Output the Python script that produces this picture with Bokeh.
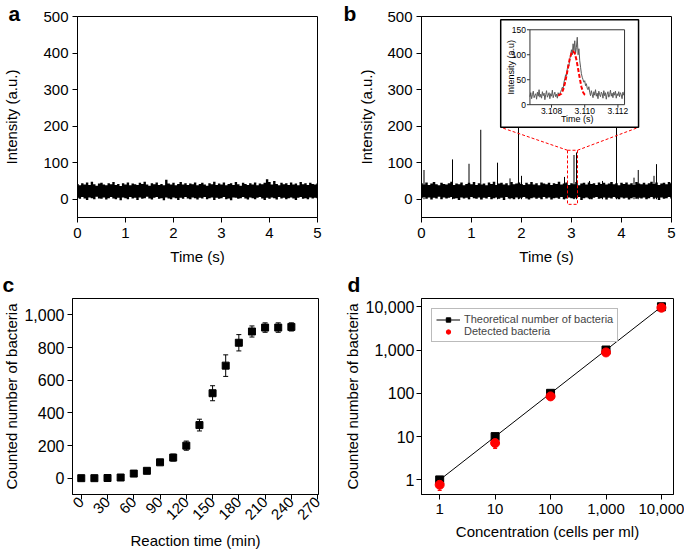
import math
from bokeh.plotting import figure
from bokeh.layouts import column, row
from bokeh.models import (Range1d, FixedTicker, NumeralTickFormatter, Whisker, ColumnDataSource,
                          Legend, LegendItem, TeeHead, Title)
from bokeh.core.properties import value
from bokeh.embed import file_html
from bokeh.resources import INLINE

FONT = "Liberation Sans"

# ---------------- data ----------------
time_ticks = [0, 1, 2, 3, 4, 5]
intensity_ticks = [0, 100, 200, 300, 400, 500]

band_t = [0.00, 0.05, 0.10, 0.15, 0.20, 0.25, 0.30, 0.35, 0.40, 0.45,
          0.50, 0.55, 0.60, 0.65, 0.70, 0.75, 0.80, 0.85, 0.90, 0.95,
          1.00, 1.05, 1.10, 1.15, 1.20, 1.25, 1.30, 1.35, 1.40, 1.45,
          1.50, 1.55, 1.60, 1.65, 1.70, 1.75, 1.80, 1.85, 1.90, 1.95,
          2.00, 2.05, 2.10, 2.15, 2.20, 2.25, 2.30, 2.35, 2.40, 2.45,
          2.50, 2.55, 2.60, 2.65, 2.70, 2.75, 2.80, 2.85, 2.90, 2.95,
          3.00, 3.05, 3.10, 3.15, 3.20, 3.25, 3.30, 3.35, 3.40, 3.45,
          3.50, 3.55, 3.60, 3.65, 3.70, 3.75, 3.80, 3.85, 3.90, 3.95,
          4.00, 4.05, 4.10, 4.15, 4.20, 4.25, 4.30, 4.35, 4.40, 4.45,
          4.50, 4.55, 4.60, 4.65, 4.70, 4.75, 4.80, 4.85, 4.90, 4.95,
          5.00]

band_a_high = [42, 38, 44, 40, 46, 39, 48, 41, 37, 43,
               45, 40, 38, 44, 41, 47, 39, 42, 36, 44,
               40, 46, 38, 43, 41, 39, 45, 42, 48, 40,
               37, 44, 41, 46, 39, 42, 38, 53, 43, 40,
               45, 38, 42, 47, 40, 44, 39, 43, 41, 46,
               38, 42, 45, 40, 37, 44, 41, 48, 39, 43,
               40, 46, 38, 42, 44, 39, 47, 41, 37, 45,
               42, 39, 44, 40, 46, 38, 43, 41, 45, 55,
               47, 40, 50, 42, 38, 45, 41, 44, 39, 46,
               40, 43, 38, 47, 41, 44, 39, 45, 42, 40,
               43]
band_a_low = [4, 1, 6, 2, -2, 5, 3, 0, 7, 2,
              1, 5, -1, 3, 6, 2, 0, 4, -3, 5,
              3, 0, 6, 2, 4, -2, 5, 1, 3, 7,
              2, -1, 4, 6, 1, 3, -3, 5, 2, 0,
              5, 3, -2, 4, 1, 6, 2, 0, 5, 3,
              -1, 4, 2, 6, 0, 3, 5, -2, 4, 1,
              3, 6, 0, 2, -3, 5, 4, 1, 3, 6,
              2, -1, 5, 3, 0, 4, 6, 2, -2, 4,
              1, 5, 3, -1, 6, 2, 4, 0, 3, 5,
              2, -2, 4, 6, 1, 3, 0, 5, 2, 4,
              3]

band_b_high = [44, 40, 46, 39, 43, 47, 41, 38, 45, 42,
               40, 44, 48, 39, 43, 41, 46, 38, 42, 45,
               41, 47, 39, 44, 40, 43, 38, 46, 42, 48,
               39, 43, 45, 40, 44, 38, 47, 41, 43, 46,
               42, 39, 45, 41, 47, 40, 44, 38, 46, 43,
               41, 45, 39, 44, 42, 48, 40, 43, 46, 39,
               44, 41, 47, 38, 43, 45, 40, 46, 42, 44,
               39, 46, 42, 45, 40, 43, 47, 41, 44, 38,
               45, 42, 46, 40, 44, 39, 47, 43, 41, 45,
               40, 44, 48, 42, 46, 39, 43, 45, 41, 47,
               44]
band_b_low = [3, 6, 1, 5, -1, 4, 2, 7, 0, 5,
              2, 4, 6, 1, 3, -2, 5, 2, 4, 0,
              6, 3, 1, 5, -1, 4, 2, 6, 0, 3,
              5, 1, 4, -2, 6, 2, 3, 0, 5, 1,
              4, 6, 2, -1, 3, 5, 1, 4, 0, 6,
              2, 5, -1, 3, 4, 1, 6, 0, 2, 5,
              3, 1, 4, 6, -2, 3, 5, 2, 0, 4,
              6, 1, 3, 5, -1, 4, 2, 6, 3, 0,
              5, 2, 4, -1, 3, 6, 1, 4, 2, 5,
              0, 3, 6, 2, 4, -2, 5, 1, 3, 6,
              2]

spike_t = [0.05, 0.62, 0.95, 1.185, 1.52, 1.77, 1.94, 2.00, 2.86, 3.05, 3.10,
           3.36, 3.62, 3.90, 4.25, 4.335, 4.65, 4.70]
spike_h = [80, 109, 97, 190, 100, 57, 230, 64, 61, 121, 128,
           50, 50, 230, 59, 80, 64, 96]

inset_xticks = [3.108, 3.110, 3.112]
inset_xlabels = ["3.108", "3.110", "3.112"]
inset_yticks = [0, 50, 100, 150]
inset_ylabels = ["0", "50", "100", "150"]

inset_t = [3.10670, 3.10675, 3.10680, 3.10685, 3.10690, 3.10695, 3.10700, 3.10705, 3.10710, 3.10715,
           3.10720, 3.10725, 3.10730, 3.10735, 3.10740, 3.10745, 3.10750, 3.10755, 3.10760, 3.10765,
           3.10770, 3.10775, 3.10780, 3.10785, 3.10790, 3.10795, 3.10800, 3.10805, 3.10810, 3.10815,
           3.10820, 3.10825, 3.10830, 3.10835, 3.10840, 3.10845, 3.10850, 3.10855, 3.10860, 3.10865,
           3.10870, 3.10875, 3.10880, 3.10885, 3.10890, 3.10895, 3.10900, 3.10905, 3.10910, 3.10915,
           3.10920, 3.10925, 3.10930, 3.10935, 3.10940, 3.10945, 3.10950, 3.10955, 3.10960, 3.10965,
           3.10970, 3.10975, 3.10980, 3.10985, 3.10990, 3.10995, 3.11000, 3.11005, 3.11010, 3.11015,
           3.11020, 3.11025, 3.11030, 3.11035, 3.11040, 3.11045, 3.11050, 3.11055, 3.11060, 3.11065,
           3.11070, 3.11075, 3.11080, 3.11085, 3.11090, 3.11095, 3.11100, 3.11105, 3.11110, 3.11115,
           3.11120, 3.11125, 3.11130, 3.11135, 3.11140, 3.11145, 3.11150, 3.11155, 3.11160, 3.11165,
           3.11170, 3.11175, 3.11180, 3.11185, 3.11190, 3.11195, 3.11200, 3.11205, 3.11210, 3.11215,
           3.11220, 3.11225, 3.11230, 3.11235, 3.11240]
inset_i = [16, 24, 12, 20, 27, 14, 19, 22, 11, 25,
           17, 30, 15, 21, 13, 26, 18, 23, 10, 20,
           28, 15, 19, 24, 12, 22, 17, 29, 14, 20,
           25, 16, 21, 13, 24, 19, 22, 26,
           30, 35, 32, 45, 52, 60, 58, 72, 80, 78,
           92, 98, 110, 100, 122, 108, 128, 103, 115, 135,
           100, 112, 88, 75, 62, 55, 50, 45, 48, 38,
           42, 33, 30, 36,
           25, 18, 28, 21, 14, 26, 19, 30, 17, 23,
           12, 27, 20, 16, 25, 22, 13, 28, 18, 24,
           11, 21, 26, 15, 20, 29, 17, 23, 14, 25,
           19, 27, 13, 22, 18, 26, 16, 24, 20, 12,
           25, 19, 28]

fit_t = [3.1084, 3.1086, 3.1087, 3.1088, 3.1089, 3.1090, 3.1091, 3.1092, 3.1093,
         3.1094, 3.1095, 3.1096, 3.1097, 3.1098, 3.1099, 3.1100, 3.1101]
fit_i = [18, 22, 30, 42, 58, 75, 92, 103, 107, 103, 90, 72, 53, 36, 25, 20, 18]

reaction_time = [0, 15, 30, 45, 60, 75, 90, 105, 120, 135, 150, 165, 180, 195, 210, 225, 240]
counted = [0, 0, 1, 4, 28, 45, 97, 126, 199, 325, 520, 689, 829, 898, 922, 922, 926]
counted_err = [2, 2, 2, 3, 6, 8, 15, 21, 28, 36, 46, 66, 50, 34, 29, 29, 25]
reaction_ticks = [0, 30, 60, 90, 120, 150, 180, 210, 240, 270]
count_ticks = [0, 200, 400, 600, 800, 1000]

concentration = [1, 10, 100, 1000, 10000]
theoretical = [1, 10, 100, 1000, 10000]
detected = [0.77, 7.1, 85, 880, 9500]
detected_err = [0.2, 1.8, 8, 60, 300]
log_ticks = [1, 10, 100, 1000, 10000]

# ---------------- helpers ----------------
W_L, W_R = 340, 344
H_T, H_B = 270, 282
LETTER_SIZE = "21px"


def base(width, height, xr, yr, borders, xtype="linear", ytype="linear"):
    l, r, t, b = borders
    p = figure(width=width, height=height, x_range=xr, y_range=yr,
               x_axis_type=xtype, y_axis_type=ytype,
               output_backend="svg", toolbar_location=None,
               min_border_left=l, min_border_right=r, min_border_top=t, min_border_bottom=b)
    p.outline_line_color = "black"
    p.outline_line_width = 1
    p.outline_line_alpha = 1
    p.background_fill_color = "white"
    p.border_fill_color = "white"
    p.xgrid.visible = False
    p.ygrid.visible = False
    for ax in p.axis:
        ax.axis_line_color = "black"
        ax.major_tick_in = 0
        ax.major_tick_out = 5
        ax.major_tick_line_color = "black"
        ax.minor_tick_line_color = None
        ax.major_label_text_font = FONT
        ax.major_label_text_font_size = "15px"
        ax.major_label_text_color = "black"
        ax.axis_label_text_font = FONT
        ax.axis_label_text_font_size = "15px"
        ax.axis_label_text_font_style = "normal"
        ax.axis_label_text_color = "black"
    return p


def letter(p, txt, offset, standoff, spacer=None):
    if spacer is not None:
        p.add_layout(Title(text=" ", text_font=FONT, text_font_size=LETTER_SIZE,
                           standoff=spacer), "above")
    p.add_layout(Title(text=txt, align="left", offset=offset, standoff=standoff,
                       text_font=FONT, text_font_size=LETTER_SIZE, text_font_style="bold",
                       text_color="black"), "above")


# ---------------- panel a ----------------
pa = base(W_L, H_T, Range1d(0, 5), Range1d(-50, 500), (72, 23, 16, 53))
pa.xaxis.ticker = FixedTicker(ticks=time_ticks)
pa.yaxis.ticker = FixedTicker(ticks=intensity_ticks)
pa.xaxis.axis_label = "Time (s)"
pa.yaxis.axis_label = "Intensity (a.u.)"
pa.xaxis.major_label_standoff = 5
pa.xaxis.axis_label_standoff = 7
pa.yaxis.major_label_standoff = 4
pa.yaxis.axis_label_standoff = 20
pa.varea_step(x=band_t, y1=band_a_low, y2=band_a_high, step_mode="center",
              fill_color="black", fill_alpha=1)
letter(pa, "a", -69, -16)

# ---------------- panel b ----------------
pb = base(W_R, H_T, Range1d(0, 5), Range1d(-50, 500), (81, 13, 16, 53))
pb.xaxis.ticker = FixedTicker(ticks=time_ticks)
pb.yaxis.ticker = FixedTicker(ticks=intensity_ticks)
pb.xaxis.axis_label = "Time (s)"
pb.yaxis.axis_label = "Intensity (a.u.)"
pb.xaxis.major_label_standoff = 5
pb.xaxis.axis_label_standoff = 7
pb.yaxis.major_label_standoff = 4
pb.yaxis.axis_label_standoff = 9
pb.varea_step(x=band_t, y1=band_b_low, y2=band_b_high, step_mode="center",
              fill_color="black", fill_alpha=1)
pb.segment(x0=spike_t, y0=[0] * len(spike_t), x1=spike_t, y1=spike_h,
           line_color="black", line_width=1)

# zoom box and connectors (layout positions in panel-b data space)
ZB = (2.92, 3.12, -14, 134)             # left, right, bottom, top
IB = (1.584, 4.341, 196.7, 491)          # inset outer box
IF = (2.169, 4.061, 258.7, 463.7)        # inset frame
pb.quad(left=[ZB[0]], right=[ZB[1]], bottom=[ZB[2]], top=[ZB[3]], fill_color=None,
        line_color="red", line_dash="3 2", line_width=1)
pb.segment(x0=[ZB[0], ZB[1]], y0=[ZB[3], ZB[3]], x1=[IB[0], IB[1]], y1=[IB[2], IB[2]],
           line_color="red", line_dash="3 2", line_width=1)
pb.quad(left=[IB[0]], right=[IB[1]], bottom=[IB[2]], top=[IB[3]], fill_color="white",
        line_color="black", line_width=1.5)

ix = (3.1067, 3.1124)
iy = (0, 150)
kx = (ix[1] - ix[0]) / (IF[1] - IF[0])
ky = (iy[1] - iy[0]) / (IF[3] - IF[2])
pb.extra_x_ranges = {"ix": Range1d(ix[0] - (IF[0] - 0) * kx, ix[0] + (5 - IF[0]) * kx)}
pb.extra_y_ranges = {"iy": Range1d(iy[0] - (IF[2] + 50) * ky, iy[0] + (500 - IF[2]) * ky)}
IN = dict(x_range_name="ix", y_range_name="iy")

pb.line(inset_t, inset_i, line_color="#5a5a5a", line_width=1, **IN)
pb.line(fit_t, fit_i, line_color="red", line_dash="4 2", line_width=2, **IN)
pb.quad(left=[ix[0]], right=[ix[1]], bottom=[iy[0]], top=[iy[1]], fill_color=None,
        line_color="#333333", line_width=1, **IN)
pb.ray(x=[ix[0]] * len(inset_yticks), y=inset_yticks, length=3, length_units="screen",
       angle=math.pi, line_color="#333333", line_width=1, **IN)
pb.ray(x=inset_xticks, y=[iy[0]] * len(inset_xticks), length=3, length_units="screen",
       angle=-math.pi / 2, line_color="#333333", line_width=1, **IN)
pb.text(x=[ix[0]] * len(inset_yticks), y=inset_yticks, text=inset_ylabels, x_offset=-4,
        text_align="right", text_baseline="middle", text_font=value(FONT),
        text_font_size="8.5px", text_color="black", **IN)
pb.text(x=inset_xticks, y=[iy[0]] * len(inset_xticks), text=inset_xlabels, y_offset=3,
        text_align="center", text_baseline="top", text_font=value(FONT),
        text_font_size="8.5px", text_color="black", **IN)
pb.text(x=[ix[0]], y=[(iy[0] + iy[1]) / 2], text=["Intensity (a.u)"], x_offset=-19,
        angle=math.pi / 2, text_align="center", text_baseline="middle",
        text_font=value(FONT), text_font_size="9px", text_color="black", **IN)
pb.text(x=[(ix[0] + ix[1]) / 2], y=[iy[0]], text=["Time (s)"], y_offset=14,
        text_align="center", text_baseline="middle", text_font=value(FONT),
        text_font_size="9px", text_color="black", **IN)
letter(pb, "b", -78, -16)

# ---------------- panel c ----------------
pc = base(W_L, H_B, Range1d(-10, 271), Range1d(-100, 1100), (72, 22, 28, 57))
pc.xaxis.ticker = FixedTicker(ticks=reaction_ticks)
pc.yaxis.ticker = FixedTicker(ticks=count_ticks)
pc.yaxis.formatter = NumeralTickFormatter(format="0,0")
pc.yaxis.major_label_text_font_size = "16px"
pc.xaxis.major_label_orientation = math.pi / 4
pc.xaxis.axis_label = "Reaction time (min)"
pc.yaxis.axis_label = "Counted number of bacteria"
pc.xaxis.major_label_standoff = 0
pc.xaxis.axis_label_standoff = 5
pc.yaxis.major_label_standoff = 3
pc.yaxis.axis_label_standoff = 1
src_c = ColumnDataSource(dict(x=reaction_time, y=counted,
                              lo=[v - e for v, e in zip(counted, counted_err)],
                              hi=[v + e for v, e in zip(counted, counted_err)]))
pc.add_layout(Whisker(base="x", lower="lo", upper="hi", source=src_c, line_color="black",
                      line_width=1,
                      lower_head=TeeHead(size=5, line_color="black", line_width=1),
                      upper_head=TeeHead(size=5, line_color="black", line_width=1)))
pc.scatter("x", "y", source=src_c, marker="square", size=7, color="black")
letter(pc, "c", -70, -2, spacer=-21)

# ---------------- panel d ----------------
pd = base(W_R, H_B, Range1d(0.47, 16500), Range1d(0.46, 15500), (79, 11, 28, 57),
          xtype="log", ytype="log")
pd.xaxis.ticker = FixedTicker(ticks=log_ticks)
pd.yaxis.ticker = FixedTicker(ticks=log_ticks)
pd.xaxis.formatter = NumeralTickFormatter(format="0,0")
pd.yaxis.formatter = NumeralTickFormatter(format="0,0")
pd.yaxis.major_label_text_font_size = "16px"
pd.xaxis.axis_label = "Concentration (cells per ml)"
pd.yaxis.axis_label = "Counted number of bacteria"
pd.xaxis.major_label_standoff = 4
pd.xaxis.axis_label_standoff = 6
pd.yaxis.major_label_standoff = 2
pd.yaxis.axis_label_standoff = 2
src_d = ColumnDataSource(dict(x=concentration, y=detected,
                              lo=[v - e for v, e in zip(detected, detected_err)],
                              hi=[v + e for v, e in zip(detected, detected_err)]))
pd.add_layout(Whisker(base="x", lower="lo", upper="hi", source=src_d, line_color="red",
                      line_width=1,
                      lower_head=TeeHead(size=4, line_color="red", line_width=1),
                      upper_head=TeeHead(size=4, line_color="red", line_width=1)))
r_line = pd.line(concentration, theoretical, line_color="black", line_width=1)
r_sq = pd.scatter(concentration, theoretical, marker="square", size=8, color="black")
r_ci = pd.scatter("x", "y", source=src_d, marker="circle", size=9, color="red")
legend = Legend(items=[LegendItem(label="Theoretical number of bacteria", renderers=[r_line, r_sq]),
                       LegendItem(label="Detected bacteria", renderers=[r_ci])],
                location="top_left", margin=10, padding=4, spacing=0,
                label_text_font=FONT, label_text_font_size="11px",
                glyph_width=24, glyph_height=11, label_height=11, label_standoff=4,
                border_line_color="#777777", border_line_width=1,
                background_fill_color="white", background_fill_alpha=1)
pd.add_layout(legend)
letter(pd, "d", -74, -2, spacer=-21)

layout = column(row(pa, pb), row(pc, pd))
open("out.html", "w").write(file_html(layout, INLINE))
